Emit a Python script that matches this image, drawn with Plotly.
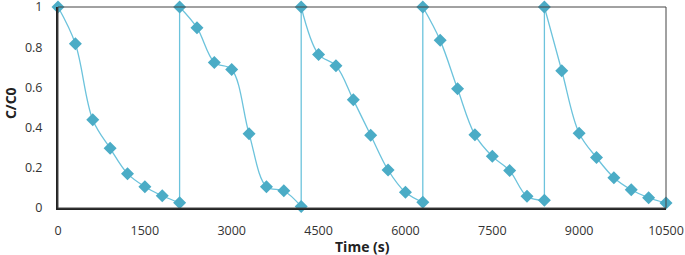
import plotly.graph_objects as go

# Five adsorption cycles (time in s, C/C0)
cycle_times = [
    [0, 300, 600, 900, 1200, 1500, 1800, 2100],
    [2100, 2400, 2700, 3000, 3300, 3600, 3900, 4200],
    [4200, 4500, 4800, 5100, 5400, 5700, 6000, 6300],
    [6300, 6600, 6900, 7200, 7500, 7800, 8100, 8400],
    [8400, 8700, 9000, 9300, 9600, 9900, 10200, 10500],
]
cycle_values = [
    [1.0, 0.817, 0.439, 0.297, 0.171, 0.106, 0.061, 0.026],
    [1.0, 0.897, 0.724, 0.689, 0.369, 0.106, 0.086, 0.008],
    [1.0, 0.764, 0.708, 0.538, 0.362, 0.189, 0.078, 0.028],
    [1.0, 0.834, 0.593, 0.364, 0.257, 0.186, 0.058, 0.038],
    [1.0, 0.683, 0.372, 0.251, 0.151, 0.091, 0.051, 0.025],
]
x_ticks = [0, 1500, 3000, 4500, 6000, 7500, 9000, 10500]
y_ticks = [0, 0.2, 0.4, 0.6, 0.8, 1]

line_color = "#6CC3DC"
marker_color = "#4BACC6"

fig = go.Figure()
# vertical reset connectors between cycles (linear)
for i in range(len(cycle_times) - 1):
    fig.add_trace(go.Scatter(
        x=[cycle_times[i][-1], cycle_times[i + 1][0]],
        y=[cycle_values[i][-1], cycle_values[i + 1][0]],
        mode="lines", line=dict(color=line_color, width=1.3),
        cliponaxis=False, showlegend=False, hoverinfo="skip"))
for t, v in zip(cycle_times, cycle_values):
    fig.add_trace(go.Scatter(
        x=t, y=v, mode="lines+markers",
        line=dict(color=line_color, width=1.3, shape="spline", smoothing=1.0),
        marker=dict(symbol="diamond", size=10, color=marker_color),
        cliponaxis=False, showlegend=False))

font_family = "Open Sans, DejaVu Sans, sans-serif"
fig.update_layout(
    width=685, height=255,
    margin=dict(l=58, r=19, t=7, b=47, autoexpand=False),
    paper_bgcolor="white", plot_bgcolor="white",
    font=dict(family=font_family, size=12.5, color="#333333"),
    xaxis=dict(range=[0, 10500], tickvals=x_ticks, ticktext=[str(v) for v in x_ticks],
               showgrid=False, zeroline=False, showline=True, linecolor="#222222", linewidth=2,
               ticks="", ticklabelstandoff=10, automargin=False, ticklabeloverflow="allow"),
    yaxis=dict(range=[0, 1], tickvals=y_ticks, ticktext=[f"{v:g}" for v in y_ticks],
               showgrid=False, zeroline=False, showline=True, linecolor="#222222", linewidth=2,
               ticks="", ticklabelstandoff=11, automargin=False, ticklabeloverflow="allow"),
    shapes=[dict(type="rect", xref="paper", yref="paper", x0=0, y0=0, x1=1, y1=1,
                 line=dict(color="#444444", width=1), layer="above")],
    annotations=[
        dict(text="<b>Time (s)</b>", xref="paper", yref="paper", x=0.5, y=-0.19,
             xanchor="center", yanchor="middle", showarrow=False,
             font=dict(size=14, color="#222222")),
        dict(text="<b>C/C0</b>", xref="paper", yref="paper", x=-0.078, y=0.52,
             xanchor="center", yanchor="middle", showarrow=False, textangle=-90,
             font=dict(size=14, color="#222222")),
    ],
)
fig.write_html("out.html", config={"displayModeBar": False},
               post_script="document.body.style.margin='0';document.body.style.overflow='hidden';")
